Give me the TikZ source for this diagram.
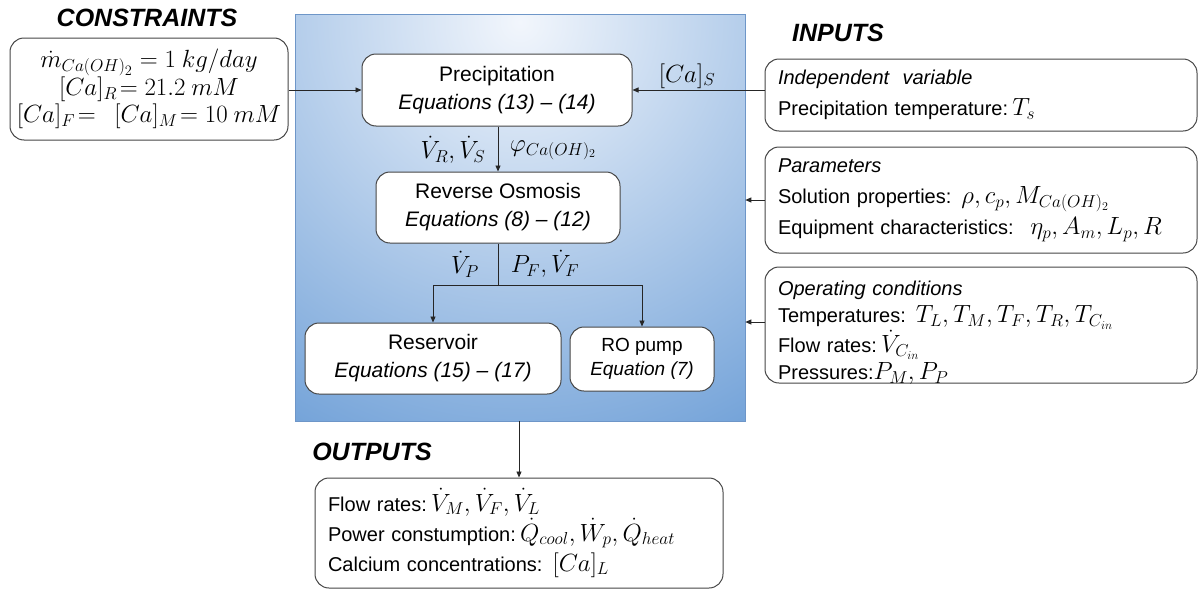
\documentclass[tikz,border=0pt]{standalone}
\usepackage{fontspec}
\setmainfont{Liberation Sans}
\usetikzlibrary{arrows.meta,calc}
\DeclareMathSizes{21}{24}{18}{14}
\DeclareMathSizes{20}{23}{17}{13}
\DeclareMathSizes{19}{22}{16}{12}
\definecolor{edgegray}{RGB}{70,70,70}
\definecolor{panelblue}{RGB}{78,138,206}
\definecolor{panellight}{RGB}{242,246,252}
\definecolor{panelborder}{RGB}{110,150,200}
\begin{document}
\begin{tikzpicture}[x=1pt,y=-1pt,
  box/.style={draw=edgegray,line width=1pt,rounded corners=14pt,fill=white,inner sep=0pt},
  cbox/.style={box,align=center,font=\fontsize{21}{28}\selectfont},
  lbox/.style={box,align=left,inner xsep=13pt,font=\fontsize{20}{29}\selectfont},
  title/.style={font=\fontsize{25}{30}\selectfont\bfseries\itshape},
  lab/.style={font=\fontsize{20}{24}\selectfont,inner sep=1pt},
  conn/.style={draw=black!85,line width=0.9pt},
  arr/.style={conn,-{Triangle[length=6pt,width=5pt]}}]
\useasboundingbox (0,0) rectangle (1201,589);

% panel
\node[minimum width=450pt,minimum height=407pt,inner sep=0pt,draw=panelborder,line width=0.6pt,
  path picture={\shade[inner color=panellight,outer color=panelblue]
    ($(path picture bounding box.north)+(0,8)$) circle (600pt);}] (panel) at (520,217.5) {};

% titles
\node[title] (tcons) at (147,18) {CONSTRAINTS};
\node[title] (tin) at (838,33) {INPUTS};
\node[title] (tout) at (372,452) {OUTPUTS};

% constraints
\node[box,minimum width=278pt,minimum height=102pt,align=center,font=\fontsize{21}{27}\selectfont] (cons) at (149,89) {%
  $\dot m_{Ca(OH)_2} = 1\ kg/day$\\ $[Ca]_R\!= 21.2\ mM$\\ $[Ca]_F\!=\ \ [Ca]_M\!= 10\ mM$};

% central boxes
\node[cbox,minimum width=270pt,minimum height=72pt] (prec) at (497,90) {Precipitation\\ \textit{Equations (13) -- (14)}};
\node[cbox,minimum width=244pt,minimum height=71pt] (ro) at (498,207.5) {Reverse Osmosis\\ \textit{Equations (8) -- (12)}};
\node[cbox,minimum width=256pt,minimum height=71pt] (res) at (433,358.5) {Reservoir\\ \textit{Equations (15) -- (17)}};
\node[box,align=center,font=\fontsize{19}{24}\selectfont,minimum width=144pt,minimum height=64pt] (pump) at (642,359) {RO pump\\ \textit{Equation (7)}};

% inputs
\node[lbox,minimum width=432pt,minimum height=72pt,text width=406pt,font=\fontsize{20}{31}\selectfont] (indep) at (981,95) {%
  \textit{Independent\ \ variable}\\ Precipitation temperature:$\,T_s$};
\node[lbox,minimum width=432pt,minimum height=106pt,text width=406pt,font=\fontsize{20}{31}\selectfont] (par) at (981,200) {%
  \textit{Parameters}\\ Solution properties: $\rho, c_p, M_{Ca(OH)_2}$\\ Equipment characteristics: \ $\eta_p, A_m, L_p, R$};
\node[box,minimum width=432pt,minimum height=116pt] (op) at (981,325) {};
\node[align=left,inner sep=0pt,text width=406pt,font=\fontsize{20}{27}\selectfont] (optext) at ($(op.center)+(0,8)$) {%
  \textit{Operating conditions}\\ Temperatures: $T_L, T_M, T_F, T_R, T_{C_{in}}$\\ Flow rates:$\,\dot V_{C_{in}}$\\ Pressures:$P_M, P_P$};

% outputs
\node[lbox,minimum width=408pt,minimum height=110pt,text width=382pt,font=\fontsize{20}{30}\selectfont] (out) at (519,533) {%
  Flow rates:$\,\dot V_M, \dot V_F, \dot V_L$\\ Power constumption:$\,\dot Q_{cool}, \dot W_p, \dot Q_{heat}$\\ Calcium concentrations: $[Ca]_L$};

% connectors
\draw[arr] (cons.east |- prec.west) -- (prec.west);
\draw[arr] (indep.west |- prec.east) -- (prec.east);
\draw[arr] (par.west) -- (par.west -| panel.east);
\draw[arr] ($(op.west)+(0,-3)$) -- ($(op.west -| panel.east)+(0,-3)$);
\draw[arr] (prec.south -| ro.north) -- (ro.north);
\coordinate (split) at (498,285);
\draw[conn] (ro.south) -- (split);
\draw[arr] (split) -| (res.north);
\draw[arr] (split) -| (pump.north);
\draw[arr] (out.north |- panel.south) -- (out.north);

% labels
\node[lab] (lcas) at (687,76) {$[Ca]_S$};
\node[lab] (lvrvs) at (453,150) {$\dot V_R, \dot V_S$};
\node[lab] (lphi) at (553,150) {$\varphi_{Ca(OH)_2}$};
\node[lab] (lvp) at (465,264) {$\dot V_P$};
\node[lab] (lpf) at (545,264) {$P_F, \dot V_F$};
\end{tikzpicture}
\end{document}
